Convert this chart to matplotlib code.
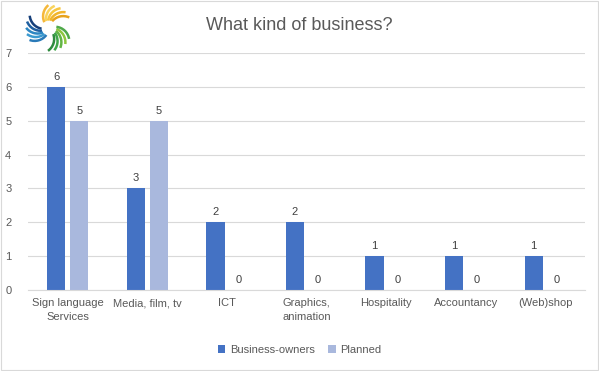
import numpy as np
import matplotlib.pyplot as plt
from matplotlib.patches import Arc, Rectangle

plt.rcParams["font.family"] = ["Liberation Sans", "DejaVu Sans"]

categories = ["Sign language\nServices", "Media, film, tv", "ICT", "Graphics,\nanimation",
              "Hospitality", "Accountancy", "(Web)shop"]
owners = [6, 3, 2, 2, 1, 1, 1]
planned = [5, 5, 0, 0, 0, 0, 0]

blue = "#4472C4"
light = "#A9B8DD"
grey = "#595959"

fig = plt.figure(figsize=(5.99, 3.71), dpi=100)
ax = fig.add_axes([28 / 599, 1 - 290 / 371, 557 / 599, 237 / 371])

x = np.arange(len(categories))
w = 0.23
off = 0.145
b1 = ax.bar(x - off, owners, w, color=blue, label="Business-owners", zorder=2)
b2 = ax.bar(x + off, planned, w, color=light, label="Planned", zorder=2)
for bars in (b1, b2):
    for r in bars:
        ax.text(r.get_x() + r.get_width() / 2, r.get_height() + 0.15, f"{int(r.get_height())}",
                ha="center", va="bottom", fontsize=8, color="#404040")

ax.set_xlim(-0.5, len(categories) - 0.5)
ax.set_ylim(0, 7)
ax.set_yticks(range(8))
ax.yaxis.grid(True, color="#D9D9D9", lw=0.8, zorder=0)
ax.set_xticks(x)
ax.set_xticklabels(categories, fontsize=8, color=grey, linespacing=1.5)
ax.tick_params(axis="y", labelsize=8, labelcolor=grey, length=0, pad=12)
ax.tick_params(axis="x", length=0, pad=6)
for s in ["top", "right", "left"]:
    ax.spines[s].set_visible(False)
ax.spines["bottom"].set_color("#D9D9D9")

fig.text(0.5, 1 - 25 / 371, "What kind of business?", ha="center", va="center",
         fontsize=13, color=grey)
fig.legend(loc="center", bbox_to_anchor=(0.5, 1 - 350 / 371), ncol=2, frameon=False,
           fontsize=8, handlelength=0.7, handleheight=0.7, handletextpad=0.4,
           columnspacing=1.2, labelcolor=grey)

# rough logo swirl: three arms of curved strokes
logo = fig.add_axes([20 / 599, 1 - 54 / 371, 58 / 599, 52 / 371])
logo.set_xlim(-1.3, 1.3)
logo.set_ylim(-1.3, 1.3)
logo.set_aspect("equal")
logo.axis("off")
arms = [(-10, ["#E8A21C", "#F2B52A", "#F7C640", "#F9D35C", "#F5B83A"]),
        (110, ["#163F7A", "#1F5FA0", "#2D86C2", "#3C9AD0", "#2A7AB8"]),
        (230, ["#2E8B3E", "#3FA64A", "#62B445", "#8CC63F", "#4FA94A"])]
for base, cols in arms:
    for i, c in enumerate(cols):
        a = base + i * 16
        cx = 0.72 * np.cos(np.radians(a))
        cy = 0.72 * np.sin(np.radians(a))
        logo.add_patch(Arc((cx, cy), 1.44, 1.44, theta1=a + 75, theta2=a + 150,
                           color=c, lw=1.8))

fig.patches.append(Rectangle((0.002, 0.003), 0.996, 0.994, transform=fig.transFigure,
                             fill=False, ec="#D9D9D9", lw=0.8))

fig.savefig("out.png", dpi=100)
